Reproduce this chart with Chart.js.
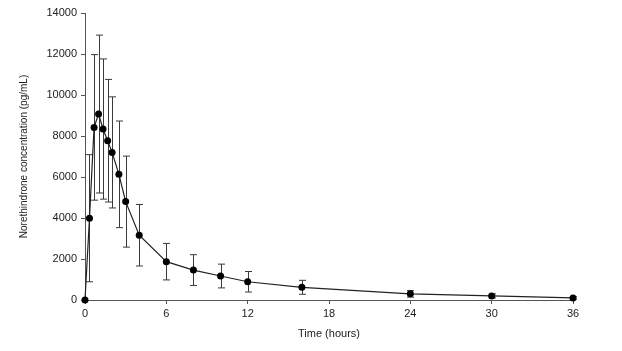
<!DOCTYPE html>
<html>
<head>
<meta charset="utf-8">
<script src="https://cdn.jsdelivr.net/npm/chart.js@4/dist/chart.umd.min.js"></script>
<style>
  html, body { margin: 0; padding: 0; background: #fff; }
  canvas { display: block; }
</style>
</head>
<body>
<canvas id="pk" width="622" height="351"></canvas>
<script>
// time after dose (hours)
const times = [0, 0.33, 0.67, 1, 1.33, 1.67, 2, 2.5, 3, 4, 6, 8, 10, 12, 16, 24, 30, 36];
// mean norethindrone concentration (pg/mL)
const means = [0, 3990, 8420, 9070, 8340, 7770, 7200, 6130, 4800, 3160, 1870, 1460, 1170, 890, 620, 300, 200, 100];
// standard deviation
const sds = [0, 3100, 3550, 3850, 3420, 2990, 2710, 2600, 2220, 1500, 890, 750, 580, 500, 340, 160, 100, 60];

const xTicks = [0, 6, 12, 18, 24, 30, 36];
const yTicks = [0, 2000, 4000, 6000, 8000, 10000, 12000, 14000];

const font = 'Liberation Sans, Arial, sans-serif';

// error bars, drawn behind the markers
const errorBars = {
    id: 'errorBars',
    beforeDatasetsDraw(chart) {
        const ctx = chart.ctx;
        const xs = chart.scales.x, ys = chart.scales.y;
        ctx.save();
        ctx.strokeStyle = '#3a3a3a';
        ctx.lineWidth = 1;
        ctx.beginPath();
        times.forEach((t, i) => {
            if (!sds[i]) return;
            const x = Math.round(xs.getPixelForValue(t)) + 0.5;
            const top = ys.getPixelForValue(means[i] + sds[i]);
            const bot = ys.getPixelForValue(Math.max(0, means[i] - sds[i]));
            ctx.moveTo(x, top); ctx.lineTo(x, bot);
            ctx.moveTo(x - 3.5, top); ctx.lineTo(x + 3.5, top);
            ctx.moveTo(x - 3.5, bot); ctx.lineTo(x + 3.5, bot);
        });
        ctx.stroke();
        ctx.restore();
    }
};

new Chart(document.getElementById('pk').getContext('2d'), {
    type: 'line',
    data: {
        datasets: [{
            data: times.map((t, i) => ({ x: t, y: means[i] })),
            borderColor: '#222',
            borderWidth: 1.2,
            pointRadius: 3.5,
            pointBackgroundColor: '#000',
            pointBorderWidth: 0,
            tension: 0,
            clip: false
        }]
    },
    plugins: [errorBars],
    options: {
        responsive: false,
        devicePixelRatio: 1,
        animation: false,
        layout: { padding: { top: 13, right: 49, left: 0, bottom: 0 } },
        plugins: { legend: { display: false }, tooltip: { enabled: false } },
        scales: {
            x: {
                type: 'linear',
                min: 0, max: 36,
                afterFit: s => { s.height = 51; },
                afterBuildTicks: s => { s.ticks = xTicks.map(v => ({ value: v })); },
                border: { display: true, color: '#555', width: 1 },
                grid: { drawOnChartArea: false, drawTicks: true, tickLength: 4, color: '#555' },
                ticks: { color: '#222', font: { family: font, size: 11 }, padding: 3, maxRotation: 0,
                         callback: v => String(v) },
                title: {
                    display: true, text: 'Time (hours)', color: '#222',
                    font: { family: font, size: 11 }, padding: { top: 0, bottom: 10 }
                }
            },
            y: {
                min: 0, max: 14000,
                afterFit: s => { s.width = 85; },
                afterBuildTicks: s => { s.ticks = yTicks.map(v => ({ value: v })); },
                border: { display: true, color: '#555', width: 1 },
                grid: { drawOnChartArea: false, drawTicks: true, tickLength: 4, color: '#555' },
                ticks: { color: '#222', font: { family: font, size: 11 }, padding: 4,
                         callback: v => String(v) },
                title: {
                    display: true, text: 'Norethindrone concentration (pg/mL)', color: '#222',
                    font: { family: font, size: 10 }, padding: { top: 18, bottom: 0 }
                }
            }
        }
    }
});
</script>
</body>
</html>
